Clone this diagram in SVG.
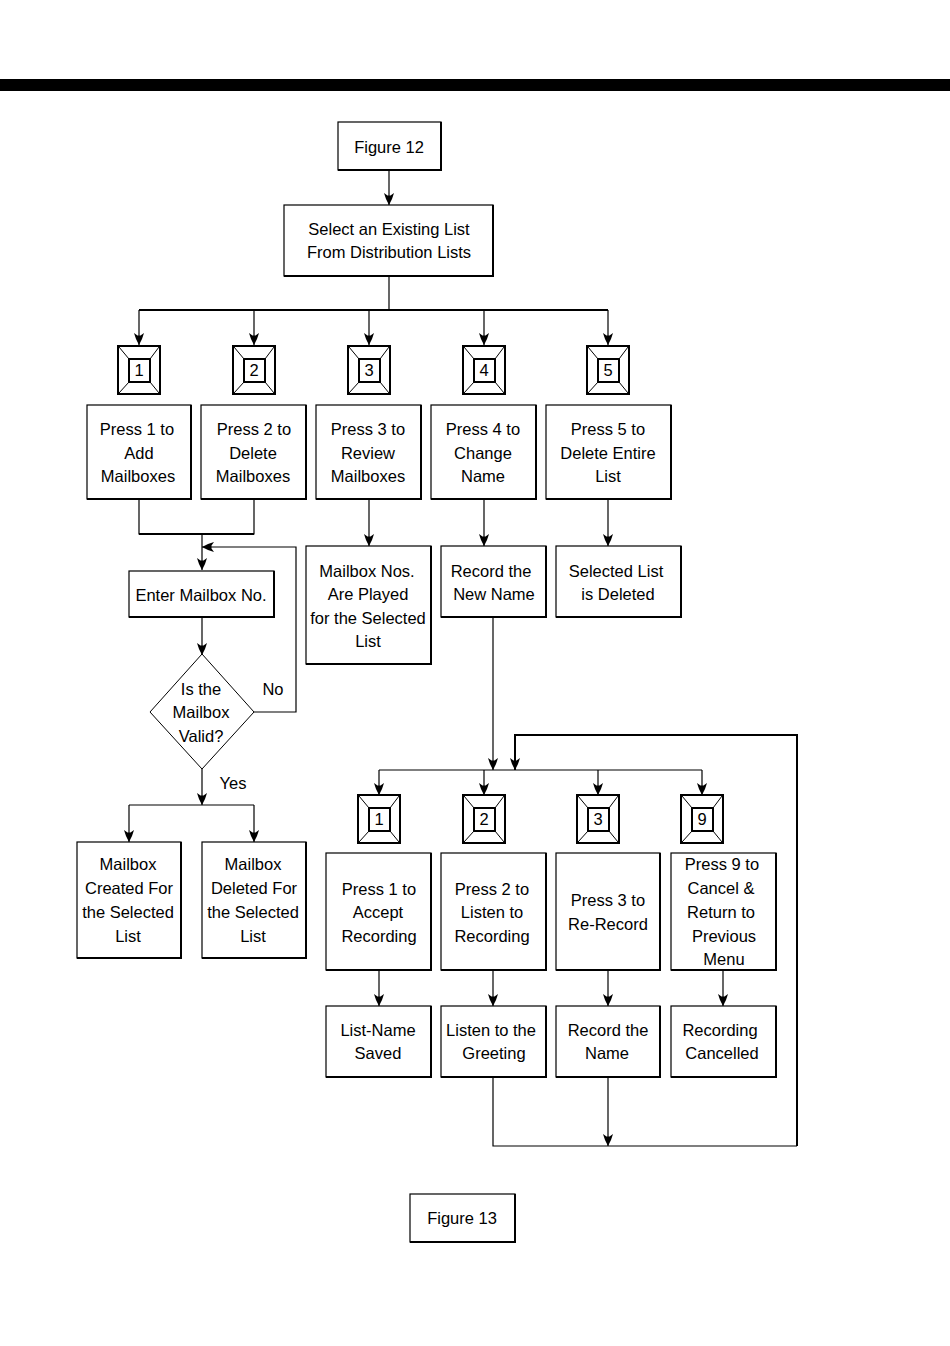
<svg xmlns="http://www.w3.org/2000/svg" width="950" height="1346" viewBox="0 0 950 1346">
<style>
.b{fill:#fff;stroke:#000;stroke-width:1.2}
.sh{fill:none;stroke:#000;stroke-width:2}
.t{font-family:"Liberation Sans",Arial,sans-serif;font-size:16.5px;fill:#000;text-anchor:middle}
.l{fill:none;stroke:#000;stroke-width:1.2}
.lt{fill:none;stroke:#000;stroke-width:2}
.kp{fill:#fff;stroke:#000;stroke-width:2}
.kd{stroke:#000;stroke-width:1}
</style>
<defs>
<marker id="ah" viewBox="-1 -6 14 12" markerWidth="14" markerHeight="12" refX="12" refY="0" orient="auto" markerUnits="userSpaceOnUse">
<path d="M12,0 L9,-1.5 L6,-3 L0,-5 L2.5,-1.5 L2.5,1.5 L0,5 L6,3 L9,1.5 Z" fill="#000"/>
</marker>
<g id="key">
<rect x="0" y="0" width="42" height="48" class="kp"/>
<rect x="11" y="13" width="21" height="23" fill="#fff" stroke="#000" stroke-width="2"/>
<line x1="1" y1="1" x2="11" y2="13" class="kd"/>
<line x1="41" y1="1" x2="32" y2="13" class="kd"/>
<line x1="1" y1="47" x2="11" y2="36" class="kd"/>
<line x1="41" y1="47" x2="32" y2="36" class="kd"/>
</g>
</defs>
<rect width="950" height="1346" fill="#fff"/>
<rect x="0" y="79" width="950" height="12" fill="#000"/>

<g id="connectors">
<line x1="389" y1="170" x2="389" y2="205" class="l" marker-end="url(#ah)"/>
<line x1="389" y1="276" x2="389" y2="310" class="l"/>
<line x1="139" y1="310" x2="608" y2="310" class="lt"/>
<line x1="139" y1="310" x2="139" y2="345" class="l" marker-end="url(#ah)"/>
<line x1="254" y1="310" x2="254" y2="345" class="l" marker-end="url(#ah)"/>
<line x1="369" y1="310" x2="369" y2="345" class="l" marker-end="url(#ah)"/>
<line x1="484" y1="310" x2="484" y2="345" class="l" marker-end="url(#ah)"/>
<line x1="608" y1="310" x2="608" y2="345" class="l" marker-end="url(#ah)"/>
<polyline points="139,499 139,534 254,534 254,499" class="l"/>
<line x1="139" y1="534" x2="254" y2="534" class="lt"/>
<line x1="202" y1="534" x2="202" y2="570" class="l" marker-end="url(#ah)"/>
<polyline points="254,712 296,712 296,547 202,547" class="l" marker-end="url(#ah)"/>
<line x1="202" y1="617" x2="202" y2="655" class="l" marker-end="url(#ah)"/>
<line x1="202" y1="769" x2="202" y2="805" class="l" marker-end="url(#ah)"/>
<line x1="129" y1="805" x2="254" y2="805" class="l"/>
<line x1="129" y1="805" x2="129" y2="842" class="l" marker-end="url(#ah)"/>
<line x1="254" y1="805" x2="254" y2="842" class="l" marker-end="url(#ah)"/>
<line x1="369" y1="499" x2="369" y2="546" class="l" marker-end="url(#ah)"/>
<line x1="484" y1="499" x2="484" y2="546" class="l" marker-end="url(#ah)"/>
<line x1="608" y1="499" x2="608" y2="546" class="l" marker-end="url(#ah)"/>
<line x1="493" y1="617" x2="493" y2="770" class="l" marker-end="url(#ah)"/>
<line x1="379" y1="770" x2="702" y2="770" class="l"/>
<line x1="379" y1="770" x2="379" y2="795" class="l" marker-end="url(#ah)"/>
<line x1="484" y1="770" x2="484" y2="795" class="l" marker-end="url(#ah)"/>
<line x1="598" y1="770" x2="598" y2="795" class="l" marker-end="url(#ah)"/>
<line x1="702" y1="770" x2="702" y2="795" class="l" marker-end="url(#ah)"/>
<polyline points="797,1146 797,735 515,735 515,770" class="lt" marker-end="url(#ah)"/>
<line x1="379" y1="970" x2="379" y2="1006" class="l" marker-end="url(#ah)"/>
<line x1="493" y1="970" x2="493" y2="1006" class="l" marker-end="url(#ah)"/>
<line x1="608" y1="970" x2="608" y2="1006" class="l" marker-end="url(#ah)"/>
<line x1="723" y1="970" x2="723" y2="1006" class="l" marker-end="url(#ah)"/>
<polyline points="493,1077 493,1146 797,1146" class="l"/>
<line x1="608" y1="1077" x2="608" y2="1146" class="l" marker-end="url(#ah)"/>
</g>

<g id="fig12"><rect x="338" y="122" width="103" height="48" class="b"/><polyline points="338,170 441,170 441,122" class="sh"/>
<text x="389" y="153" class="t">Figure 12</text></g>
<g id="select"><rect x="284" y="205" width="209" height="71" class="b"/><polyline points="284,276 493,276 493,205" class="sh"/>
<text x="389" y="235" class="t">Select an Existing List</text><text x="389" y="258" class="t">From Distribution Lists</text></g>

<g id="k1"><use href="#key" x="118" y="346"/><text x="139" y="376" class="t">1</text></g>
<g id="k2"><use href="#key" x="233" y="346"/><text x="254" y="376" class="t">2</text></g>
<g id="k3"><use href="#key" x="348" y="346"/><text x="369" y="376" class="t">3</text></g>
<g id="k4"><use href="#key" x="463" y="346"/><text x="484" y="376" class="t">4</text></g>
<g id="k5"><use href="#key" x="587" y="346"/><text x="608" y="376" class="t">5</text></g>

<g id="p1"><rect x="87" y="405" width="104" height="94" class="b"/><polyline points="87,499 191,499 191,405" class="sh"/>
<text x="137" y="435" class="t">Press 1 to</text><text x="139" y="459" class="t">Add</text><text x="138" y="482" class="t">Mailboxes</text></g>
<g id="p2"><rect x="201" y="405" width="105" height="94" class="b"/><polyline points="201,499 306,499 306,405" class="sh"/>
<text x="254" y="435" class="t">Press 2 to</text><text x="253" y="459" class="t">Delete</text><text x="253" y="482" class="t">Mailboxes</text></g>
<g id="p3"><rect x="316" y="405" width="105" height="94" class="b"/><polyline points="316,499 421,499 421,405" class="sh"/>
<text x="368" y="435" class="t">Press 3 to</text><text x="368" y="459" class="t">Review</text><text x="368" y="482" class="t">Mailboxes</text></g>
<g id="p4"><rect x="431" y="405" width="105" height="94" class="b"/><polyline points="431,499 536,499 536,405" class="sh"/>
<text x="483" y="435" class="t">Press 4 to</text><text x="483" y="459" class="t">Change</text><text x="483" y="482" class="t">Name</text></g>
<g id="p5"><rect x="546" y="405" width="125" height="94" class="b"/><polyline points="546,499 671,499 671,405" class="sh"/>
<text x="608" y="435" class="t">Press 5 to</text><text x="608" y="459" class="t">Delete Entire</text><text x="608" y="482" class="t">List</text></g>

<g id="enter"><rect x="129" y="571" width="145" height="46" class="b"/><polyline points="129,617 274,617 274,571" class="sh"/>
<text x="201" y="601" class="t">Enter Mailbox No.</text></g>
<g id="valid"><polygon points="202,654 254,712 202,769 150,712" fill="#fff" stroke="#000" stroke-width="1"/>
<text x="201" y="695" class="t">Is the</text><text x="201" y="718" class="t">Mailbox</text><text x="201" y="742" class="t">Valid?</text></g>
<text x="273" y="695" class="t">No</text>
<text x="233" y="789" class="t">Yes</text>

<g id="created"><rect x="77" y="842" width="104" height="116" class="b"/><polyline points="77,958 181,958 181,842" class="sh"/>
<text x="128" y="870" class="t">Mailbox</text><text x="129" y="894" class="t">Created For</text><text x="128" y="918" class="t">the Selected</text><text x="128" y="942" class="t">List</text></g>
<g id="deleted"><rect x="202" y="842" width="104" height="116" class="b"/><polyline points="202,958 306,958 306,842" class="sh"/>
<text x="253" y="870" class="t">Mailbox</text><text x="254" y="894" class="t">Deleted For</text><text x="253" y="918" class="t">the Selected</text><text x="253" y="942" class="t">List</text></g>

<g id="played"><rect x="306" y="546" width="125" height="118" class="b"/><polyline points="306,664 431,664 431,546" class="sh"/>
<text x="367" y="577" class="t">Mailbox Nos.</text><text x="368" y="600" class="t">Are Played</text><text x="368" y="624" class="t">for the Selected</text><text x="368" y="647" class="t">List</text></g>
<g id="recname"><rect x="441" y="546" width="105" height="71" class="b"/><polyline points="441,617 546,617 546,546" class="sh"/>
<text x="491" y="577" class="t">Record the</text><text x="494" y="600" class="t">New Name</text></g>
<g id="listdel"><rect x="556" y="546" width="125" height="71" class="b"/><polyline points="556,617 681,617 681,546" class="sh"/>
<text x="616" y="577" class="t">Selected List</text><text x="618" y="600" class="t">is Deleted</text></g>

<g id="kb1"><use href="#key" x="358" y="795"/><text x="379" y="825" class="t">1</text></g>
<g id="kb2"><use href="#key" x="463" y="795"/><text x="484" y="825" class="t">2</text></g>
<g id="kb3"><use href="#key" x="577" y="795"/><text x="598" y="825" class="t">3</text></g>
<g id="kb9"><use href="#key" x="681" y="795"/><text x="702" y="825" class="t">9</text></g>

<g id="r1"><rect x="326" y="853" width="105" height="117" class="b"/><polyline points="326,970 431,970 431,853" class="sh"/>
<text x="379" y="895" class="t">Press 1 to</text><text x="378" y="918" class="t">Accept</text><text x="379" y="942" class="t">Recording</text></g>
<g id="r2"><rect x="441" y="853" width="105" height="117" class="b"/><polyline points="441,970 546,970 546,853" class="sh"/>
<text x="492" y="895" class="t">Press 2 to</text><text x="492" y="918" class="t">Listen to</text><text x="492" y="942" class="t">Recording</text></g>
<g id="r3"><rect x="556" y="853" width="104" height="117" class="b"/><polyline points="556,970 660,970 660,853" class="sh"/>
<text x="608" y="906" class="t">Press 3 to</text><text x="608" y="930" class="t">Re-Record</text></g>
<g id="r9"><rect x="671" y="853" width="105" height="117" class="b"/><polyline points="671,970 776,970 776,853" class="sh"/>
<text x="722" y="870" class="t">Press 9 to</text><text x="721" y="894" class="t">Cancel &amp;</text><text x="721" y="918" class="t">Return to</text><text x="724" y="942" class="t">Previous</text><text x="724" y="965" class="t">Menu</text></g>

<g id="s1"><rect x="326" y="1006" width="105" height="71" class="b"/><polyline points="326,1077 431,1077 431,1006" class="sh"/>
<text x="378" y="1036" class="t">List-Name</text><text x="378" y="1059" class="t">Saved</text></g>
<g id="s2"><rect x="441" y="1006" width="105" height="71" class="b"/><polyline points="441,1077 546,1077 546,1006" class="sh"/>
<text x="491" y="1036" class="t">Listen to the</text><text x="494" y="1059" class="t">Greeting</text></g>
<g id="s3"><rect x="556" y="1006" width="104" height="71" class="b"/><polyline points="556,1077 660,1077 660,1006" class="sh"/>
<text x="608" y="1036" class="t">Record the</text><text x="607" y="1059" class="t">Name</text></g>
<g id="s9"><rect x="671" y="1006" width="105" height="71" class="b"/><polyline points="671,1077 776,1077 776,1006" class="sh"/>
<text x="720" y="1036" class="t">Recording</text><text x="722" y="1059" class="t">Cancelled</text></g>

<g id="fig13"><rect x="410" y="1194" width="105" height="48" class="b"/><polyline points="410,1242 515,1242 515,1194" class="sh"/>
<text x="462" y="1224" class="t">Figure 13</text></g>
</svg>
